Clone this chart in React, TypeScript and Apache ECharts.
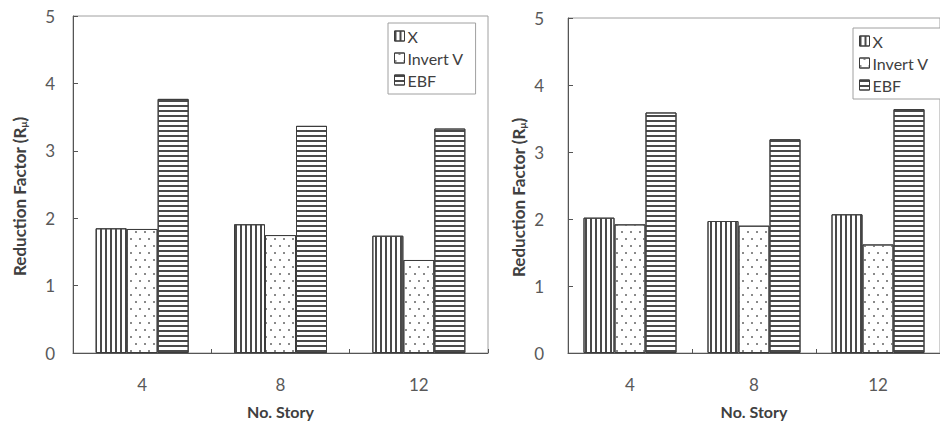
import React, { useEffect, useRef } from "react";
import * as echarts from "echarts";

const categories = ["4", "8", "12"];
const seriesNames = ["X", "Invert V", "EBF"];
// Left chart
const leftX = [1.85, 1.91, 1.74];
const leftInvertV = [1.84, 1.75, 1.38];
const leftEBF = [3.77, 3.37, 3.33];
// Right chart
const rightX = [2.02, 1.97, 2.07];
const rightInvertV = [1.92, 1.9, 1.62];
const rightEBF = [3.59, 3.19, 3.64];
const yTicks = { min: 0, max: 5, interval: 1 };

const FONT = "Lato, 'Open Sans', sans-serif";

const decals: any = {
  X: {
    symbol: "rect",
    symbolSize: 1,
    symbolKeepAspect: false,
    color: "#4a4a4a",
    dashArrayX: [1.2, 2.6],
    dashArrayY: [10, 0],
  },
  "Invert V": {
    symbol: "rect",
    symbolSize: 1,
    symbolKeepAspect: false,
    color: "#8a8a8a",
    dashArrayX: [
      [1.2, 7],
      [0, 4, 1.2, 2.8],
    ],
    dashArrayY: [1.6, 4.2],
  },
  EBF: {
    symbol: "rect",
    symbolSize: 1,
    symbolKeepAspect: false,
    color: "#4a4a4a",
    dashArrayX: [10, 0],
    dashArrayY: [1.3, 2.3],
  },
};

function makeSeries(name: string, data: number[], idx: number) {
  return {
    type: "bar",
    name,
    xAxisIndex: idx,
    yAxisIndex: idx,
    data,
    barWidth: 31,
    barGap: "0%",
    itemStyle: {
      color: "#ffffff",
      borderColor: "#3c3c3c",
      borderWidth: 1,
      decal: decals[name],
    },
  };
}

function xAxisCfg(idx: number) {
  return {
    type: "category",
    gridIndex: idx,
    data: categories,
    axisLine: { show: true, lineStyle: { color: "#555", width: 1 } },
    axisTick: { show: true, inside: true, length: 4, lineStyle: { color: "#555" } },
    axisLabel: { margin: 23, fontSize: 17, color: "#595959", fontFamily: FONT },
    name: "No. Story",
    nameLocation: "middle",
    nameGap: 50,
    nameTextStyle: { fontSize: 16, fontWeight: "bold", color: "#404040", fontFamily: FONT },
  };
}

function yAxisCfg(idx: number, labelMargin: number, nameGap: number) {
  return {
    type: "value",
    gridIndex: idx,
    min: yTicks.min,
    max: yTicks.max,
    interval: yTicks.interval,
    splitLine: { show: false },
    axisLine: { show: true, lineStyle: { color: "#555", width: 1 } },
    axisTick: { show: true, inside: true, length: 5, lineStyle: { color: "#555" } },
    axisLabel: { margin: labelMargin, fontSize: 17, color: "#595959", fontFamily: FONT },
    name: "Reduction Factor (R{sub|μ})",
    nameLocation: "middle",
    nameGap,
    nameRotate: 90,
    nameTextStyle: {
      fontSize: 17,
      fontWeight: "bold",
      color: "#404040",
      fontFamily: FONT,
      padding: [0, 24, 0, 0],
      rich: {
        sub: { fontSize: 10, fontWeight: "bold", color: "#404040", fontFamily: FONT, verticalAlign: "bottom", padding: [7, 0, 0, 0] },
      },
    },
  };
}

function legendCfg(left: number, top: number) {
  return {
    orient: "vertical",
    left,
    top,
    data: seriesNames,
    icon: "rect",
    itemWidth: 10,
    itemHeight: 10,
    itemGap: 6,
    padding: [5, 12, 6, 6],
    borderColor: "#a0a0a0",
    borderWidth: 1,
    backgroundColor: "#fff",
    textStyle: { fontSize: 16, color: "#404040", fontFamily: FONT, padding: [0, 0, 0, -2] },
    itemStyle: { borderColor: "#3c3c3c", borderWidth: 1 },
    selectedMode: false,
  };
}

export default function App() {
  const ref = useRef<HTMLDivElement>(null);
  useEffect(() => {
    document.body.style.margin = "0";
    const chart = echarts.init(ref.current!, null, { renderer: "svg" });
    chart.setOption({
      animation: false,
      backgroundColor: "#ffffff",
      grid: [
        { left: 73, top: 16, width: 415, height: 337, show: true, borderColor: "#a0a0a0", borderWidth: 1 },
        { left: 568, top: 18, width: 382, height: 335, show: true, borderColor: "#a0a0a0", borderWidth: 1 },
      ],
      xAxis: [xAxisCfg(0), xAxisCfg(1)],
      yAxis: [yAxisCfg(0, 18, 45), yAxisCfg(1, 24, 41)],
      legend: [legendCfg(388, 23), legendCfg(853, 28)],
      series: [
        makeSeries("X", leftX, 0),
        makeSeries("Invert V", leftInvertV, 0),
        makeSeries("EBF", leftEBF, 0),
        makeSeries("X", rightX, 1),
        makeSeries("Invert V", rightInvertV, 1),
        makeSeries("EBF", rightEBF, 1),
      ],
    });
    return () => chart.dispose();
  }, []);
  return <div ref={ref} style={{ width: 940, height: 429 }} />;
}
